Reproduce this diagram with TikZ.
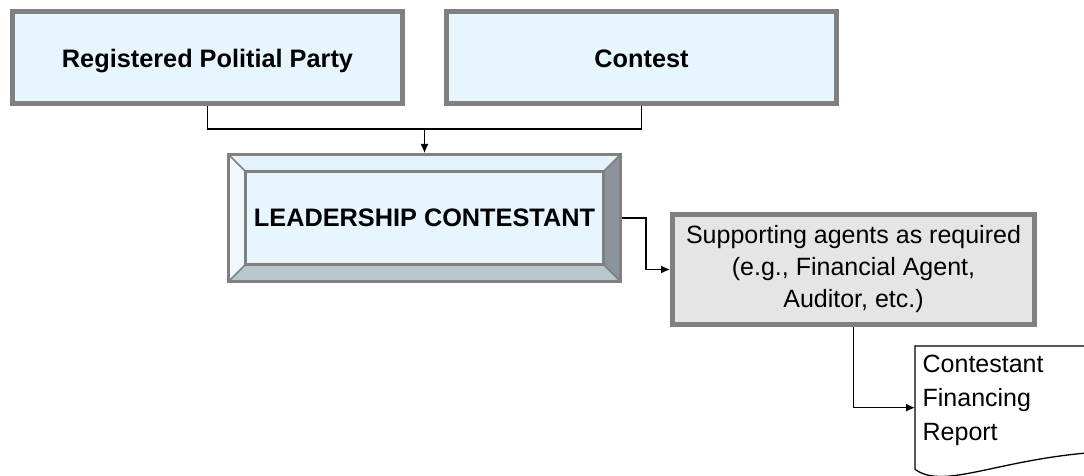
\documentclass[tikz,border=0pt]{standalone}
\usepackage{fontspec}
\setmainfont{Liberation Sans}
\usetikzlibrary{positioning,arrows.meta}

\definecolor{boxblue}{RGB}{230,245,254}
\definecolor{boxgray}{RGB}{128,128,128}
\definecolor{agentgray}{RGB}{229,229,229}
\definecolor{bevtop}{RGB}{228,243,251}
\definecolor{bevleft}{RGB}{242,249,254}
\definecolor{bevright}{RGB}{138,148,154}
\definecolor{bevbottom}{RGB}{185,198,205}

\begin{document}
\begin{tikzpicture}[x=1pt, y=-1pt,
	main/.style={rectangle, text centered, draw=boxgray, fill=boxblue, line width=5pt, minimum width=390pt, minimum height=92pt, text height=22pt, text depth=1pt, font=\fontsize{25.3}{31}\selectfont\bfseries},
	lead/.style={rectangle, text centered, draw=boxgray, fill=boxblue, line width=3pt, minimum width=392pt, minimum height=127pt, text height=18pt, text depth=2pt, font=\fontsize{25.3}{31}\selectfont\bfseries,
		path picture={
			\path (path picture bounding box.north west) coordinate (bnw) ++(17,17) coordinate (inw)
				(path picture bounding box.north east) coordinate (bne) ++(-17,17) coordinate (ine)
				(path picture bounding box.south east) coordinate (bse) ++(-17,-17) coordinate (ise)
				(path picture bounding box.south west) coordinate (bsw) ++(17,-17) coordinate (isw);
			\fill[bevtop] (bnw) -- (bne) -- (ine) -- (inw) -- cycle;
			\fill[bevleft] (bnw) -- (inw) -- (isw) -- (bsw) -- cycle;
			\fill[bevright] (bne) -- (bse) -- (ise) -- (ine) -- cycle;
			\fill[bevbottom] (bsw) -- (isw) -- (ise) -- (bse) -- cycle;
			\draw[boxgray, line width=1.5pt] (bnw) -- (inw) (bne) -- (ine) (bse) -- (ise) (bsw) -- (isw);
			\draw[boxgray, line width=2.5pt, fill=boxblue] (inw) rectangle (ise);
		}},
	agent/.style={rectangle, align=center, draw=boxgray, fill=agentgray, line width=5pt, minimum width=362pt, minimum height=110pt, font=\fontsize{25}{32}\selectfont},
	doc/.style={rectangle, align=left, text width=181pt, inner xsep=7pt, minimum height=122pt, text depth=88pt, line width=1.3pt, font=\fontsize{25}{34}\selectfont},
	link/.style={line width=1.3pt, -{Latex[length=9pt, width=8pt]}}
	]
	\useasboundingbox (0,0) rectangle (1084,476);

		\node (party) [main] at (207.5,57.5) {Registered Politial Party};
		\node (contest) [main, right=39pt of party] {Contest};
		\node (leader) [lead] at (424.5,218) {LEADERSHIP CONTESTANT};
			\node (agent) [agent, right=48pt of leader, yshift=-51.5pt] {Supporting agents as required\\(e.g., Financial Agent,\\Auditor, etc.)};
				\node (report) [doc, below right=19pt and 61.5pt of agent.south] {Contestant\\Financing\\Report};

	\path (leader.north) ++(0,-24) coordinate (merge);

	\draw [link, -] (party.south) |- (merge) -| (contest.south);
	\draw [link] (merge) -- (leader.north);

	\draw [link] (leader.east) -- ++(24,0) |- (agent.west);

	% right side of the report sheet lies past the page edge
	\draw [link, -] (report.north east) -- (report.north west) -- (report.south west) .. controls +(30,22) and +(-110,5) .. ([yshift=18pt]report.south east);
	\draw [link] (agent.south) |- (report.west);

\end{tikzpicture}
\end{document}
